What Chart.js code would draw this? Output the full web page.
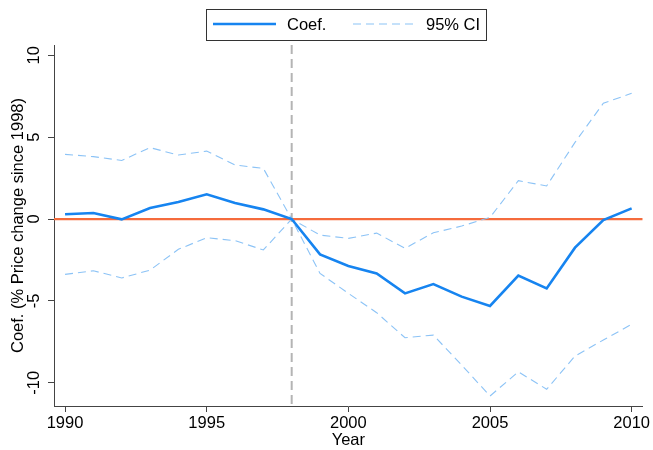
<!DOCTYPE html>
<html>
<head>
<meta charset="utf-8">
<script src="https://cdn.jsdelivr.net/npm/chart.js@4.4.1/dist/chart.umd.min.js"></script>
<style>
  html, body { margin: 0; padding: 0; background: #ffffff; }
  #wrap { width: 653px; height: 450px; position: relative; }
</style>
</head>
<body>
<div id="wrap"><canvas id="chart" width="653" height="450"></canvas></div>
<script>
// Event-study estimates, relative to 1998
const years = [1990, 1991, 1992, 1993, 1994, 1995, 1996, 1997, 1998, 1999, 2000,
               2001, 2002, 2003, 2004, 2005, 2006, 2007, 2008, 2009, 2010];
const coef = [0.29, 0.37, -0.02, 0.67, 1.04, 1.51, 0.98, 0.59, 0.0, -2.16, -2.87,
              -3.32, -4.54, -3.97, -4.74, -5.31, -3.46, -4.24, -1.75, -0.06, 0.65];
const ciUpper = [3.95, 3.81, 3.58, 4.36, 3.91, 4.15, 3.30, 3.09, 0.0, -0.98, -1.18,
                 -0.86, -1.79, -0.84, -0.43, 0.10, 2.34, 2.02, 4.68, 7.07, 7.68];
const ciLower = [-3.38, -3.16, -3.60, -3.12, -1.85, -1.14, -1.32, -1.89, 0.0, -3.32, -4.54,
                 -5.72, -7.25, -7.09, -8.92, -10.81, -9.33, -10.40, -8.37, -7.39, -6.43];

const xTicks = [1990, 1995, 2000, 2005, 2010];
const yTicks = [-10, -5, 0, 5, 10];
const baseYear = 1998;
const refValue = 0;

const FONT = '"Liberation Sans", Arial, Helvetica, sans-serif';
const FONT_SIZE = 16.5;
const BLUE = '#1684f0';
const LIGHT_BLUE = '#8cc3f6';
const ORANGE = '#f56b3c';
const AXIS = '#444444';

const toPoints = (vals) => vals.map((v, i) => ({ x: years[i], y: v }));

// Zero line and base-year marker, drawn beneath the series
const refLines = {
  id: 'refLines',
  beforeDatasetsDraw(chart) {
    const { ctx, chartArea, scales: { x, y } } = chart;
    ctx.save();
    ctx.beginPath();
    ctx.rect(chartArea.left, chartArea.top, chartArea.right - chartArea.left, chartArea.bottom - chartArea.top);
    ctx.clip();
    const yy = y.getPixelForValue(refValue);
    ctx.strokeStyle = ORANGE;
    ctx.lineWidth = 2.2;
    ctx.beginPath();
    ctx.moveTo(chartArea.left, yy);
    ctx.lineTo(chartArea.right, yy);
    ctx.stroke();
    const xx = x.getPixelForValue(baseYear);
    ctx.strokeStyle = '#b4b4b4';
    ctx.lineWidth = 2;
    ctx.setLineDash([9, 5]);
    ctx.beginPath();
    ctx.moveTo(xx, chartArea.top);
    ctx.lineTo(xx, chartArea.bottom);
    ctx.stroke();
    ctx.restore();
  }
};

// Boxed legend above the plot
const boxLegend = {
  id: 'boxLegend',
  afterDraw(chart) {
    const { ctx } = chart;
    const ds = chart.data.datasets;
    ctx.save();
    ctx.strokeStyle = '#333333';
    ctx.lineWidth = 1;
    ctx.strokeRect(206.5, 9.5, 280, 31);
    const cy = 24;
    const items = [
      { d: ds[0], x0: 213, x1: 276, tx: 287 },
      { d: ds[1], x0: 353, x1: 418, tx: 426 }
    ];
    ctx.font = FONT_SIZE + 'px ' + FONT;
    ctx.textBaseline = 'middle';
    ctx.textAlign = 'left';
    items.forEach(it => {
      ctx.strokeStyle = it.d.borderColor;
      ctx.lineWidth = it.d.borderWidth;
      ctx.setLineDash(it.d.borderDash || []);
      ctx.beginPath();
      ctx.moveTo(it.x0, cy);
      ctx.lineTo(it.x1, cy);
      ctx.stroke();
      ctx.setLineDash([]);
      ctx.fillStyle = '#000000';
      ctx.fillText(it.d.label, it.tx, cy + 1);
    });
    ctx.restore();
  }
};

new Chart(document.getElementById('chart'), {
  type: 'line',
  data: {
    datasets: [
      {
        label: 'Coef.',
        data: toPoints(coef),
        borderColor: BLUE,
        borderWidth: 2.6,
        pointRadius: 0,
        tension: 0,
        order: 0
      },
      {
        label: '95% CI',
        data: toPoints(ciUpper),
        borderColor: LIGHT_BLUE,
        borderWidth: 1.1,
        borderDash: [8, 5],
        pointRadius: 0,
        tension: 0,
        order: 1
      },
      {
        label: '95% CI (lower)',
        data: toPoints(ciLower),
        borderColor: LIGHT_BLUE,
        borderWidth: 1.1,
        borderDash: [8, 5],
        pointRadius: 0,
        tension: 0,
        order: 1
      }
    ]
  },
  options: {
    responsive: false,
    animation: false,
    events: [],
    layout: { padding: { top: 45, right: 10.3, left: 0, bottom: 0 } },
    plugins: {
      legend: { display: false },
      tooltip: { enabled: false }
    },
    scales: {
      x: {
        type: 'linear',
        min: 1989.61,
        max: 2010.39,
        afterBuildTicks(s) { s.ticks = xTicks.map(v => ({ value: v })); },
        afterFit(s) { s.height = 44; },
        ticks: {
          color: '#000000',
          font: { family: FONT, size: FONT_SIZE },
          padding: 2,
          maxRotation: 0,
          autoSkip: false,
          callback: (v) => String(v)
        },
        grid: { drawOnChartArea: false, drawTicks: true, tickLength: 6, color: AXIS, lineWidth: 1 },
        border: { display: true, color: AXIS, width: 1 },
        title: {
          display: true,
          text: 'Year',
          color: '#000000',
          font: { family: FONT, size: FONT_SIZE },
          padding: { top: 0, bottom: 0 }
        }
      },
      y: {
        type: 'linear',
        min: -11.42,
        max: 10.63,
        afterBuildTicks(s) { s.ticks = yTicks.map(v => ({ value: v })); },
        afterFit(s) { s.width = 54; },
        ticks: {
          color: '#000000',
          font: { family: FONT, size: FONT_SIZE },
          padding: 1.5,
          minRotation: 90,
          maxRotation: 90,
          crossAlign: 'center',
          autoSkip: false,
          callback: (v) => String(v)
        },
        grid: { drawOnChartArea: false, drawTicks: true, tickLength: 6, color: AXIS, lineWidth: 1 },
        border: { display: true, color: AXIS, width: 1 },
        title: {
          display: true,
          text: 'Coef. (% Price change since 1998)',
          color: '#000000',
          font: { family: FONT, size: FONT_SIZE },
          padding: { top: 8.5, bottom: 0 }
        }
      }
    }
  },
  plugins: [refLines, boxLegend]
});
</script>
</body>
</html>
